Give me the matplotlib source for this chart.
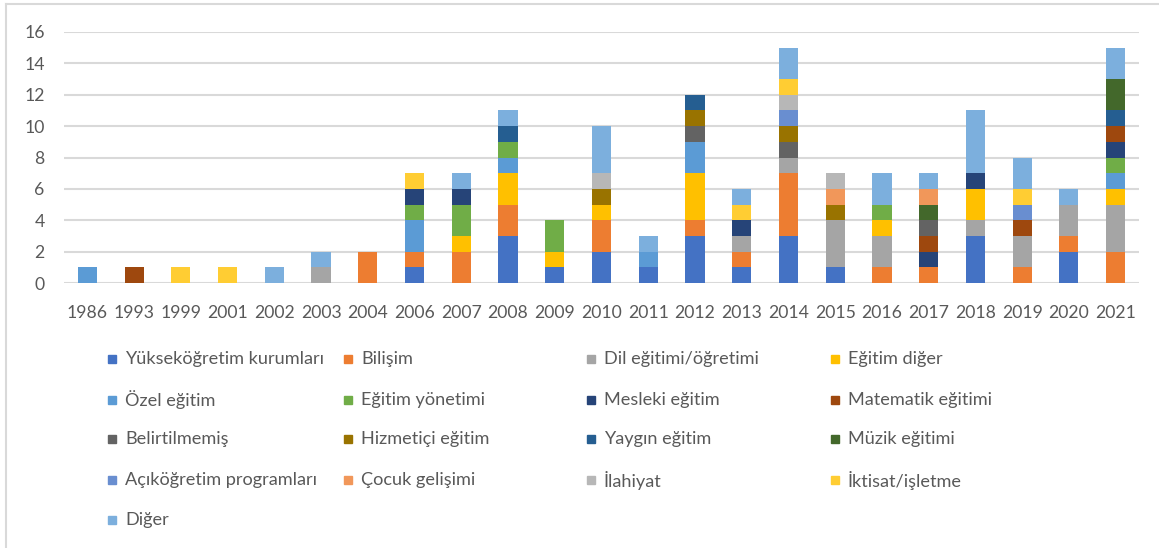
import matplotlib
matplotlib.use("Agg")
import matplotlib.pyplot as plt
import numpy as np
from matplotlib.patches import Rectangle
from matplotlib.lines import Line2D

plt.rcParams['font.family'] = ['Lato', 'DejaVu Sans']

years = ['1986', '1993', '1999', '2001', '2002', '2003', '2004', '2006', '2007', '2008',
         '2009', '2010', '2011', '2012', '2013', '2014', '2015', '2016', '2017', '2018',
         '2019', '2020', '2021']

categories = ['Yükseköğretim kurumları', 'Bilişim', 'Dil eğitimi/öğretimi', 'Eğitim diğer',
              'Özel eğitim', 'Eğitim yönetimi', 'Mesleki eğitim', 'Matematik eğitimi',
              'Belirtilmemiş', 'Hizmetiçi eğitim', 'Yaygın eğitim', 'Müzik eğitimi',
              'Açıköğretim programları', 'Çocuk gelişimi', 'İlahiyat', 'İktisat/işletme',
              'Diğer']

colors = ['#4472C4', '#ED7D31', '#A5A5A5', '#FFC000', '#5B9BD5', '#70AD47', '#264478',
          '#9E480E', '#636363', '#997300', '#255E91', '#43682B', '#698ED0', '#F1975A',
          '#B7B7B7', '#FFCD33', '#7CAFDD']

#                1986 93 99 01 02 03 04 06 07 08 09 10 11 12 13 14 15 16 17 18 19 20 21
yuksekogretim = [0, 0, 0, 0, 0, 0, 0, 1, 0, 3, 1, 2, 1, 3, 1, 3, 1, 0, 0, 3, 0, 2, 0]
bilisim       = [0, 0, 0, 0, 0, 0, 2, 1, 2, 2, 0, 2, 0, 1, 1, 4, 0, 1, 1, 0, 1, 1, 2]
dil           = [0, 0, 0, 0, 0, 1, 0, 0, 0, 0, 0, 0, 0, 0, 1, 1, 3, 2, 0, 1, 2, 2, 3]
egitim_diger  = [0, 0, 0, 0, 0, 0, 0, 0, 1, 2, 1, 1, 0, 3, 0, 0, 0, 1, 0, 2, 0, 0, 1]
ozel          = [1, 0, 0, 0, 0, 0, 0, 2, 0, 1, 0, 0, 1, 2, 0, 0, 0, 0, 0, 0, 0, 0, 1]
yonetim       = [0, 0, 0, 0, 0, 0, 0, 1, 2, 1, 2, 0, 0, 0, 0, 0, 0, 1, 0, 0, 0, 0, 1]
mesleki       = [0, 0, 0, 0, 0, 0, 0, 1, 1, 0, 0, 0, 0, 0, 1, 0, 0, 0, 1, 1, 0, 0, 1]
matematik     = [0, 1, 0, 0, 0, 0, 0, 0, 0, 0, 0, 0, 0, 0, 0, 0, 0, 0, 1, 0, 1, 0, 1]
belirtilmemis = [0, 0, 0, 0, 0, 0, 0, 0, 0, 0, 0, 0, 0, 1, 0, 1, 0, 0, 1, 0, 0, 0, 0]
hizmetici     = [0, 0, 0, 0, 0, 0, 0, 0, 0, 0, 0, 1, 0, 1, 0, 1, 1, 0, 0, 0, 0, 0, 0]
yaygin        = [0, 0, 0, 0, 0, 0, 0, 0, 0, 1, 0, 0, 0, 1, 0, 0, 0, 0, 0, 0, 0, 0, 1]
muzik         = [0, 0, 0, 0, 0, 0, 0, 0, 0, 0, 0, 0, 0, 0, 0, 0, 0, 0, 1, 0, 0, 0, 2]
acikogretim   = [0, 0, 0, 0, 0, 0, 0, 0, 0, 0, 0, 0, 0, 0, 0, 1, 0, 0, 0, 0, 1, 0, 0]
cocuk         = [0, 0, 0, 0, 0, 0, 0, 0, 0, 0, 0, 0, 0, 0, 0, 0, 1, 0, 1, 0, 0, 0, 0]
ilahiyat      = [0, 0, 0, 0, 0, 0, 0, 0, 0, 0, 0, 1, 0, 0, 0, 1, 1, 0, 0, 0, 0, 0, 0]
iktisat       = [0, 0, 1, 1, 0, 0, 0, 1, 0, 0, 0, 0, 0, 0, 1, 1, 0, 0, 0, 0, 1, 0, 0]
diger         = [0, 0, 0, 0, 1, 1, 0, 0, 1, 1, 0, 3, 1, 0, 1, 2, 0, 2, 1, 4, 2, 1, 2]

series = [yuksekogretim, bilisim, dil, egitim_diger, ozel, yonetim, mesleki, matematik,
          belirtilmemis, hizmetici, yaygin, muzik, acikogretim, cocuk, ilahiyat, iktisat,
          diger]

W, H = 1159, 548
fig = plt.figure(figsize=(W / 100, H / 100), dpi=100)
ax = fig.add_axes([64 / W, 1 - 283 / H, (1139 - 64) / W, (283 - 32) / H])

x = np.arange(len(years))
bottom = np.zeros(len(years))
for vals, c in zip(series, colors):
    vals = np.array(vals, dtype=float)
    ax.bar(x, vals, width=0.41, bottom=bottom, color=c, zorder=3)
    bottom += vals

ax.set_xlim(-0.5, len(years) - 0.5)
ax.set_ylim(0, 16)
ax.set_yticks(range(0, 17, 2))
ax.set_xticks(x)
ax.set_xticklabels(years)
ax.grid(axis='y', color='#D9D9D9', linewidth=1.5, zorder=0)
for s in ax.spines.values():
    s.set_visible(False)
ax.tick_params(axis='both', length=0, labelsize=12.7, labelcolor='#595959')
ax.tick_params(axis='x', pad=16)
ax.tick_params(axis='y', pad=14)

# legend drawn as a grid like the Excel one
col_x = [108, 344, 587, 831]
row_y = [359, 400, 439, 480, 520]
for i, (name, c) in enumerate(zip(categories, colors)):
    r, k = divmod(i, 4)
    px, py = col_x[k], row_y[r]
    fig.patches.append(Rectangle((px / W, 1 - (py + 4) / H), 8 / W, 8 / H,
                                 transform=fig.transFigure, color=c))
    fig.text((px + 17) / W, 1 - py / H, name, fontsize=13.1, color='#595959',
             va='center', ha='left')

# chart frame (top and left visible)
fig.add_artist(Line2D([6 / W, 6 / W], [0, 1 - 4 / H], color='#D9D9D9', lw=1.5,
                      transform=fig.transFigure))
fig.add_artist(Line2D([6 / W, 1], [1 - 4 / H, 1 - 4 / H], color='#D9D9D9', lw=1.5,
                      transform=fig.transFigure))

fig.savefig('out.png', dpi=100, facecolor='white')
